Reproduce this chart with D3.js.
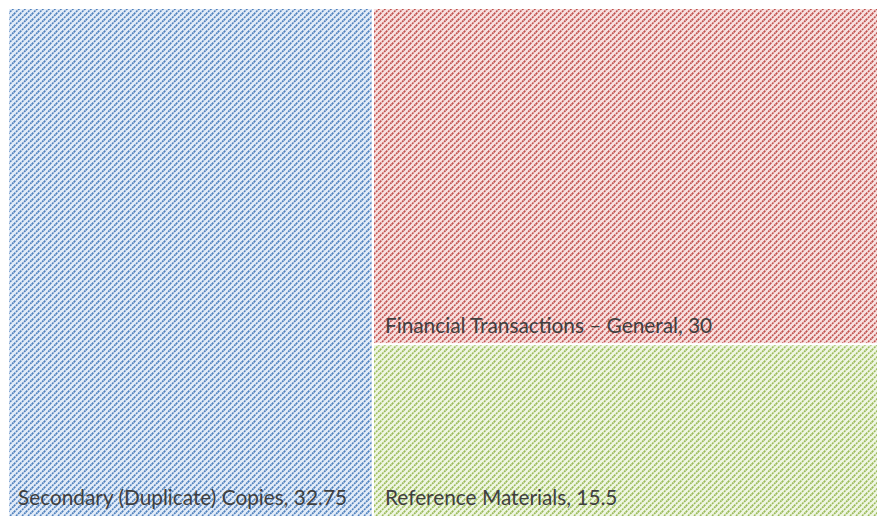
<!DOCTYPE html>
<html><head><meta charset="utf-8">
<script src="https://cdn.jsdelivr.net/npm/d3@7/dist/d3.min.js"></script>
<style>body{margin:0;background:#fff;} svg{display:block;}</style>
</head><body>
<svg id="chart" width="877" height="516"></svg>
<script>
const categories = ["Secondary (Duplicate) Copies", "Financial Transactions – General", "Reference Materials"];
const values = [32.75, 30, 15.5];
const darkColors = ["#4f81bd", "#c0504d", "#9bbb59"];
const lightColors = ["#e3ecf8", "#f8e1e0", "#eff6e3"];

const svg = d3.select("#chart");
const defs = svg.append("defs");
darkColors.forEach((c, i) => {
  const p = defs.append("pattern").attr("id", "pat" + i)
    .attr("patternUnits", "userSpaceOnUse").attr("width", 6).attr("height", 6);
  p.append("rect").attr("width", 6).attr("height", 6).attr("fill", lightColors[i]);
  p.append("path").attr("d", "M0,6 L6,0 M-1,1 L1,-1 M5,7 L7,5")
    .attr("stroke", c).attr("stroke-width", 1.6).attr("stroke-dasharray", "2,0.9");
});

const root = d3.hierarchy({children: categories.map((n, i) => ({name: n, value: values[i], idx: i}))})
  .sum(d => d.value || 0)
  .sort((a, b) => b.value - a.value);

d3.treemap().tile(d3.treemapSquarify.ratio(1)).size([872, 510]).paddingInner(0)(root);

const g = svg.append("g").attr("transform", "translate(8,8)");
const leaves = g.selectAll("g.leaf").data(root.leaves()).join("g").attr("class", "leaf");
leaves.append("rect")
  .attr("x", d => d.x0).attr("y", d => d.y0)
  .attr("width", d => d.x1 - d.x0).attr("height", d => d.y1 - d.y0)
  .attr("fill", d => "url(#pat" + d.data.idx + ")")
  .attr("stroke", "#fff").attr("stroke-width", 2);
leaves.append("text")
  .attr("x", d => d.x0 + (d.x0 > 0 ? 12 : 10))
  .attr("y", d => Math.min(d.y1, 508) - 11)
  .attr("font-family", "Lato, 'Open Sans', sans-serif")
  .attr("font-size", 20.8)
  .attr("fill", "#404040")
  .text(d => d.data.name + ", " + d.data.value);
</script>
</body></html>
